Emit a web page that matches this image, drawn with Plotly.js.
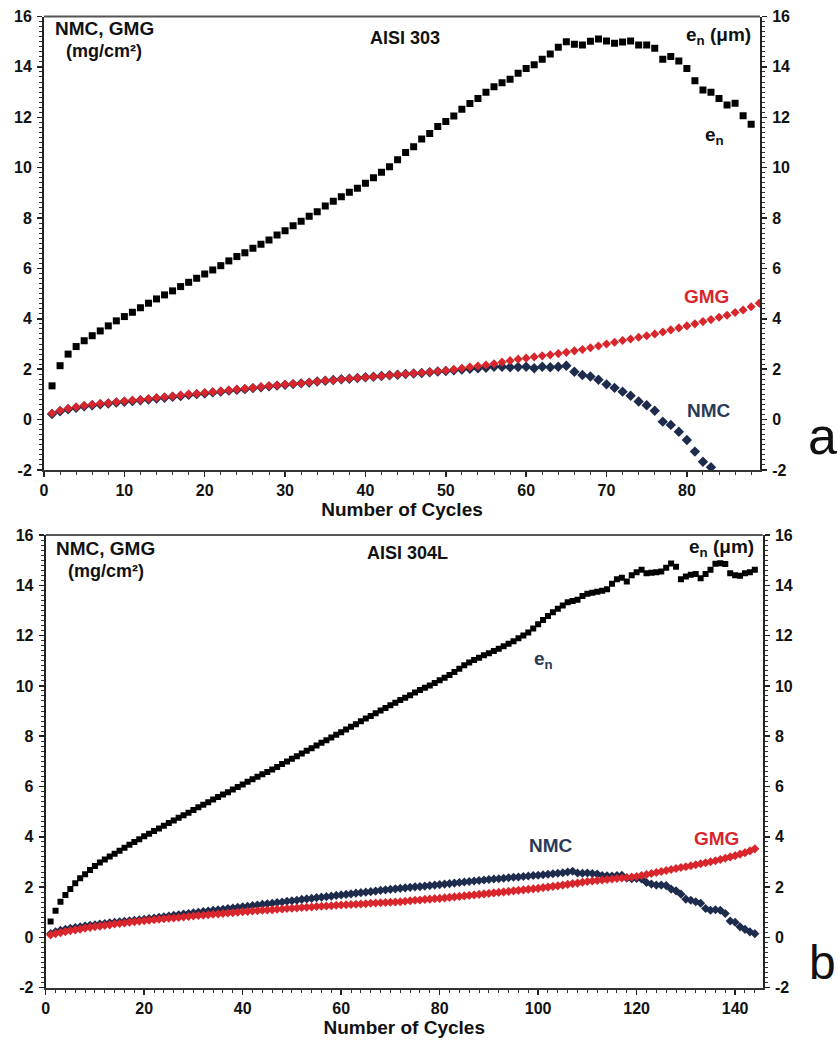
<!DOCTYPE html>
<html>
<head>
<meta charset="utf-8">
<script src="https://cdn.plot.ly/plotly-3.0.1.min.js"></script>
<style>html,body{margin:0;padding:0;background:#fff}#chart{width:838px;height:1040px}</style>
</head>
<body>
<div id="chart"></div>
<script>
// ---------- Panel a : AISI 303 ----------
const cyclesA_en = Array.from({length: 88}, (_, i) => i + 1);
const enA = [1.34,2.14,2.60,2.90,3.13,3.33,3.52,3.72,3.92,4.09,4.26,4.44,4.62,4.79,4.95,5.11,5.28,5.45,5.61,5.78,
5.94,6.11,6.30,6.47,6.62,6.80,6.96,7.13,7.33,7.50,7.69,7.87,8.07,8.25,8.48,8.67,8.85,9.02,9.18,9.38,
9.60,9.82,10.04,10.31,10.60,10.83,11.14,11.36,11.63,11.83,12.05,12.32,12.55,12.75,12.99,13.21,13.37,13.51,13.75,13.94,
14.08,14.30,14.51,14.78,15.00,14.90,14.87,15.02,15.11,15.03,14.94,14.99,15.03,14.87,14.87,14.74,14.30,14.41,14.23,13.94,
13.45,13.08,12.99,12.75,12.49,12.56,12.06,11.72];
const cyclesA_gmg = Array.from({length: 89}, (_, i) => i + 1);
const gmgA = [0.25,0.36,0.44,0.50,0.56,0.60,0.64,0.66,0.70,0.74,0.77,0.79,0.83,0.87,0.90,0.93,0.97,1.01,1.03,1.07,
1.10,1.13,1.17,1.21,1.23,1.26,1.30,1.34,1.36,1.40,1.42,1.44,1.48,1.51,1.55,1.56,1.60,1.63,1.65,1.68,
1.70,1.73,1.76,1.79,1.81,1.84,1.86,1.89,1.92,1.95,1.99,2.04,2.09,2.13,2.17,2.22,2.28,2.34,2.40,2.44,
2.49,2.53,2.57,2.62,2.67,2.73,2.78,2.85,2.92,3.00,3.07,3.14,3.20,3.27,3.33,3.40,3.48,3.56,3.64,3.72,
3.80,3.89,3.97,4.06,4.14,4.25,4.35,4.48,4.62];
const cyclesA_nmc = Array.from({length: 83}, (_, i) => i + 1);
const nmcA = [0.22,0.33,0.41,0.47,0.53,0.57,0.61,0.64,0.68,0.71,0.74,0.77,0.80,0.84,0.87,0.91,0.94,0.98,1.01,1.04,
1.08,1.11,1.15,1.18,1.21,1.25,1.28,1.32,1.35,1.38,1.41,1.44,1.47,1.51,1.54,1.57,1.60,1.62,1.65,1.68,
1.70,1.73,1.76,1.78,1.81,1.83,1.85,1.88,1.91,1.93,1.96,1.99,2.02,2.04,2.06,2.10,2.10,2.08,2.09,2.10,
2.04,2.10,2.08,2.10,2.14,1.90,1.77,1.71,1.58,1.40,1.26,1.11,0.95,0.72,0.57,0.35,-0.08,-0.21,-0.48,-0.81,
-1.27,-1.67,-1.89];

// ---------- Panel b : AISI 304L ----------
const cyclesB = Array.from({length: 144}, (_, i) => i + 1);
const enB = [0.63,1.06,1.42,1.69,1.92,2.15,2.35,2.51,2.68,2.84,2.98,3.10,3.22,3.33,3.45,3.56,3.68,3.79,3.90,4.02,
4.12,4.23,4.33,4.44,4.55,4.65,4.76,4.86,4.96,5.07,5.17,5.27,5.37,5.48,5.58,5.68,5.77,5.88,5.98,6.08,
6.19,6.29,6.39,6.49,6.58,6.68,6.78,6.89,6.99,7.10,7.20,7.31,7.42,7.52,7.63,7.74,7.84,7.95,8.06,8.16,
8.27,8.38,8.48,8.59,8.70,8.80,8.91,9.02,9.12,9.23,9.33,9.44,9.53,9.63,9.74,9.84,9.93,10.02,10.12,10.22,
10.32,10.43,10.55,10.68,10.82,10.93,11.03,11.12,11.22,11.30,11.39,11.48,11.58,11.68,11.78,11.89,12.00,12.12,12.28,12.45,
12.62,12.78,12.93,13.07,13.20,13.33,13.38,13.43,13.57,13.66,13.70,13.74,13.78,13.84,14.06,14.24,14.30,14.15,14.40,14.52,
14.62,14.48,14.50,14.52,14.55,14.70,14.87,14.74,14.24,14.35,14.42,14.45,14.28,14.45,14.62,14.86,14.88,14.85,14.48,14.40,
14.38,14.48,14.52,14.62];
const nmcB = [0.15,0.22,0.28,0.32,0.36,0.39,0.42,0.45,0.48,0.50,0.53,0.55,0.58,0.60,0.62,0.64,0.66,0.68,0.70,0.72,
0.75,0.77,0.80,0.82,0.85,0.88,0.90,0.93,0.95,0.98,1.00,1.03,1.05,1.08,1.10,1.12,1.15,1.17,1.20,1.22,
1.24,1.27,1.29,1.32,1.34,1.36,1.39,1.41,1.44,1.46,1.48,1.51,1.53,1.55,1.58,1.60,1.62,1.64,1.67,1.69,
1.71,1.73,1.76,1.78,1.80,1.82,1.84,1.87,1.89,1.91,1.93,1.95,1.97,1.99,2.01,2.02,2.04,2.06,2.08,2.10,
2.12,2.14,2.16,2.18,2.20,2.22,2.24,2.26,2.28,2.30,2.32,2.33,2.35,2.37,2.39,2.40,2.42,2.44,2.46,2.47,
2.49,2.51,2.53,2.55,2.57,2.60,2.63,2.56,2.55,2.56,2.54,2.52,2.46,2.45,2.44,2.46,2.47,2.35,2.33,2.34,
2.32,2.18,2.12,2.08,2.08,2.06,1.92,1.85,1.72,1.52,1.48,1.42,1.36,1.15,1.08,1.10,1.08,0.95,0.65,0.60,
0.42,0.32,0.22,0.15];
const gmgB = [0.10,0.15,0.19,0.23,0.27,0.30,0.33,0.37,0.40,0.43,0.45,0.48,0.50,0.53,0.55,0.57,0.60,0.62,0.64,0.66,
0.68,0.70,0.72,0.74,0.76,0.77,0.79,0.81,0.83,0.85,0.87,0.88,0.90,0.92,0.93,0.95,0.97,0.98,1.00,1.02,
1.03,1.05,1.06,1.08,1.09,1.10,1.12,1.13,1.15,1.16,1.17,1.19,1.20,1.21,1.23,1.24,1.25,1.26,1.28,1.29,
1.30,1.31,1.32,1.33,1.34,1.36,1.37,1.38,1.39,1.40,1.41,1.42,1.44,1.46,1.48,1.49,1.51,1.52,1.54,1.55,
1.57,1.59,1.61,1.63,1.65,1.67,1.69,1.71,1.73,1.75,1.77,1.79,1.81,1.83,1.85,1.87,1.89,1.91,1.93,1.95,
1.98,2.00,2.03,2.05,2.08,2.11,2.14,2.16,2.19,2.22,2.24,2.26,2.28,2.30,2.32,2.34,2.36,2.38,2.40,2.42,
2.46,2.50,2.54,2.58,2.62,2.66,2.70,2.74,2.78,2.81,2.85,2.89,2.93,2.97,3.01,3.05,3.10,3.15,3.20,3.25,
3.31,3.37,3.44,3.52];

const yTicks = [-2, 0, 2, 4, 6, 8, 10, 12, 14, 16];

// ---------- styling ----------
const W = 838, H = 1040;
const fx = p => p / W, fy = p => 1 - p / H;
const FONT = 'Liberation Sans, Arial, sans-serif';
const tickFont = {family: FONT, size: 16, color: '#111', weight: 'bold'};
const NAVY = '#1d2c4c', RED = '#d8262c';

function yAxis(extra) {
  return Object.assign({
    range: [-2, 16], tickvals: yTicks, ticktext: yTicks.map(String),
    ticks: 'outside', ticklen: 5, tickwidth: 1.5, tickcolor: '#222',
    minor: {dtick: 0.2, ticks: 'outside', ticklen: 3, tickwidth: 1, tickcolor: '#333'},
    showline: true, linecolor: '#222', linewidth: 2,
    showgrid: false, zeroline: false, tickfont: tickFont, ticklabelstandoff: 2,
    fixedrange: true
  }, extra);
}
function xAxis(extra) {
  return Object.assign({
    ticks: 'outside', ticklen: 5, tickwidth: 1.5, tickcolor: '#222',
    minor: {dtick: 2, ticks: 'outside', ticklen: 3, tickwidth: 1, tickcolor: '#333'},
    showline: true, linecolor: '#333', linewidth: 2, mirror: false,
    showgrid: false, zeroline: false, tickfont: tickFont,
    title: {text: 'Number of Cycles', font: {family: FONT, size: 19, color: '#111', weight: 'bold'}, standoff: 3}
  }, extra);
}

const mk = (sym, color, size) => ({symbol: sym, color: color, size: size, line: {width: 0}});

const traces = [
  {x: cyclesA_nmc, y: nmcA, xaxis: 'x', yaxis: 'y', type: 'scatter', mode: 'markers', name: 'NMC', marker: mk('diamond', NAVY, 8)},
  {x: cyclesA_gmg, y: gmgA, xaxis: 'x', yaxis: 'y', type: 'scatter', mode: 'markers', name: 'GMG', marker: mk('diamond', RED, 7)},
  {x: cyclesA_en, y: enA, xaxis: 'x', yaxis: 'y2', type: 'scatter', mode: 'markers', name: 'en', marker: mk('square', '#000', 7)},
  {x: cyclesB, y: nmcB, xaxis: 'x2', yaxis: 'y3', type: 'scatter', mode: 'markers', name: 'NMC', marker: mk('diamond', NAVY, 7)},
  {x: cyclesB, y: gmgB, xaxis: 'x2', yaxis: 'y3', type: 'scatter', mode: 'markers', name: 'GMG', marker: mk('diamond', RED, 7)},
  {x: cyclesB, y: enB, xaxis: 'x2', yaxis: 'y4', type: 'scatter', mode: 'markers', name: 'en', marker: mk('square', '#000', 6)}
];

function ann(text, x, y, opts) {
  return Object.assign({text: text, x: fx(x), y: fy(y), xref: 'paper', yref: 'paper', showarrow: false,
    xanchor: 'center', yanchor: 'middle',
    font: {family: FONT, size: 19, color: '#111', weight: 'bold'}}, opts || {});
}
const labFont = (c, s) => ({family: FONT, size: s || 19, color: c, weight: 'bold'});

const layout = {
  width: W, height: H, margin: {l: 0, r: 0, t: 0, b: 0},
  paper_bgcolor: '#fff', plot_bgcolor: '#fff', showlegend: false,
  font: {family: FONT},
  xaxis: xAxis({domain: [fx(44), fx(760)], range: [0, 89.1], tickvals: [0,10,20,30,40,50,60,70,80], anchor: 'y'}),
  yaxis: yAxis({domain: [fy(470), fy(16.5)], anchor: 'x'}),
  yaxis2: yAxis({overlaying: 'y', side: 'right', anchor: 'x'}),
  xaxis2: xAxis({domain: [fx(45.7), fx(762.7)], range: [0, 145.6], tickvals: [0,20,40,60,80,100,120,140], anchor: 'y3'}),
  yaxis3: yAxis({domain: [fy(987.7), fy(535)], anchor: 'x2'}),
  yaxis4: yAxis({overlaying: 'y3', side: 'right', anchor: 'x2'}),
  shapes: [
    {type: 'line', xref: 'paper', yref: 'paper', x0: fx(44), x1: fx(760), y0: fy(16.5), y1: fy(16.5), line: {color: '#555', width: 2}},
    {type: 'line', xref: 'paper', yref: 'paper', x0: fx(45.7), x1: fx(762.7), y0: fy(535), y1: fy(535), line: {color: '#555', width: 2}}
  ],
  annotations: [
    ann('NMC, GMG', 104, 28, {font: labFont('#111', 19)}),
    ann('(mg/cm²)', 104, 51, {font: labFont('#111', 18)}),
    ann('AISI 303', 405, 38, {font: labFont('#111', 18)}),
    ann('e<sub>n</sub> (μm)', 753, 36, {xanchor: 'right'}),
    ann('e<sub>n</sub>', 714, 136),
    ann('GMG', 706, 296, {font: labFont(RED)}),
    ann('NMC', 709, 411, {font: labFont('#2b3a58')}),
    ann('a', 822, 436, {font: {family: FONT, size: 52, color: '#111'}}),
    ann('NMC, GMG', 106, 548, {font: labFont('#111', 19)}),
    ann('(mg/cm²)', 106, 571, {font: labFont('#111', 18)}),
    ann('AISI 304L', 407, 553, {font: labFont('#111', 18)}),
    ann('e<sub>n</sub> (μm)', 756, 548, {xanchor: 'right'}),
    ann('e<sub>n</sub>', 543, 660, {font: labFont('#2b3a58')}),
    ann('NMC', 551, 845, {font: labFont('#2b3a58')}),
    ann('GMG', 716, 838, {font: labFont(RED)}),
    ann('b', 822, 962, {font: {family: FONT, size: 48, color: '#111'}})
  ]
};

Plotly.newPlot('chart', traces, layout, {staticPlot: true, displayModeBar: false});
</script>
</body>
</html>
